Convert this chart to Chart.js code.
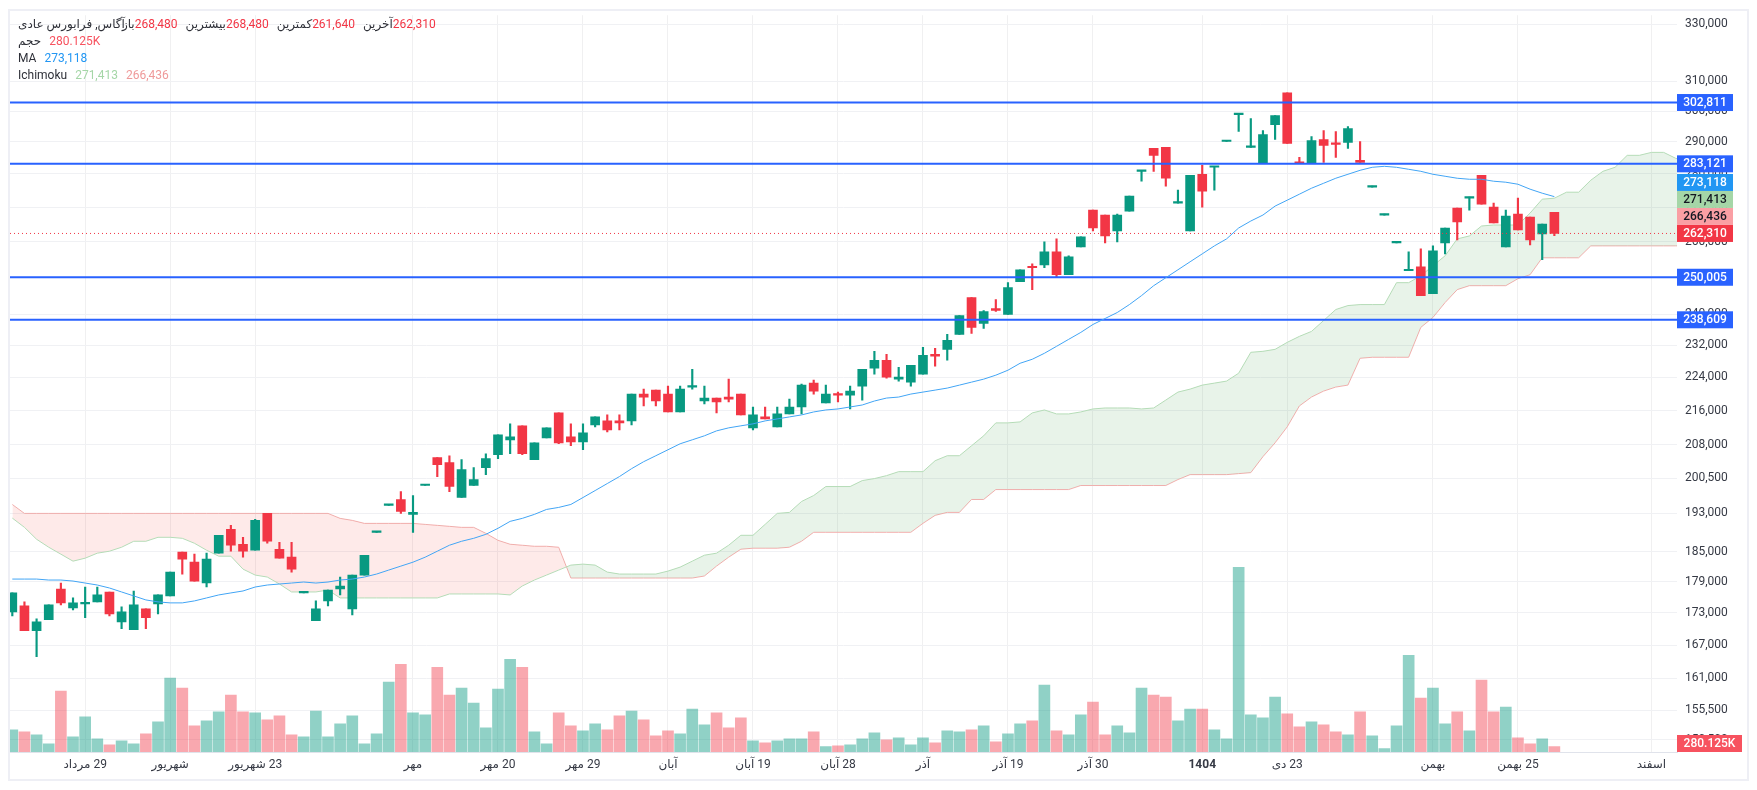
<!DOCTYPE html>
<html lang="fa">
<head>
<meta charset="utf-8">
<title>آگاس</title>
<script src="https://cdn.jsdelivr.net/npm/chart.js@4"></script>
<style>
  html, body { margin: 0; padding: 0; background: #fff; }
  body { width: 1757px; height: 790px; position: relative; overflow: hidden; font-family: Roboto, "Noto Sans", "DejaVu Sans", sans-serif; }
  #frame { position: absolute; left: 8px; top: 9px; width: 1741px; height: 772px; box-sizing: border-box; border: 2px solid #eeeff5; }
  canvas { position: absolute; left: 0; top: 0; }
  #legend { position: absolute; left: 18px; top: 16px; font-size: 12px; line-height: 17px; color: #2e3038; }
  #legend div { display: flex; height: 17px; white-space: nowrap; }
  #legend span { margin-right: 8px; }
  #legend span.l { margin-right: 0; }
  #legend span.n { margin-right: -3px; }
</style>
</head>
<body>
<div id="frame"></div>
<canvas id="grafico" width="1757" height="790" dir="rtl"></canvas>
<div id="legend">
  <div><span class="n">آگاس, فرابورس عادی</span><span class="l">باز</span><span style="color:#f23645">268,480</span><span class="l">بیشترین</span><span style="color:#f23645">268,480</span><span class="l">کمترین</span><span style="color:#f23645">261,640</span><span class="l">آخرین</span><span style="color:#f23645">262,310</span></div>
  <div><span>حجم</span><span style="color:#f7525f">280.125K</span></div>
  <div><span>MA</span><span style="color:#2196f3">273,118</span></div>
  <div><span>Ichimoku</span><span style="color:#a5d6a7">271,413</span><span style="color:#ef9a9a">266,436</span></div>
</div>
<script>
/* candles, one entry per trading day */
const opens = [
  173210,174350,169660,171710,177600,173970,174730,175110,177030,171330,
  169850,173780,174730,176260,184920,182910,178770,184720,189620,186540,
  185320,192960,185520,183910,176840,171520,175300,177600,173780,180340,
  189000,194650,195930,192750,198950,205120,204000,196350,198950,202890,
  205790,209180,212410,204670,209630,215440,209860,208720,212640,213560,
  213560,213560,219940,220900,219940,215670,221630,218270,218980,219220,
  219940,211940,214500,212170,215200,216850,222600,217800,219940,219700,
  221870,226270,228250,223570,222840,224790,229750,231000,234820,244480,
  237650,241570,239990,248790,252890,253440,257060,250700,258470,269120,
  267660,263030,268830,280800,287950,288260,271180,263030,279900,282050,
  290150,298800,288260,283270,295580,306070,283580,283270,290790,289520,
  289840,284200,276000,267650,259600,251800,252890,245550,259600,269700,
  272650,279590,270000,258470,267950,267080,262170,268480
];
const highs = [
  176840,175110,171900,174540,178770,175870,177990,177990,177030,174160,
  177220,173780,176450,180930,184920,184520,184720,188380,190450,187970,
  191700,192960,186950,186950,177030,175300,177410,179950,180340,184310,
  189200,194860,197640,196780,199170,205120,205560,204670,202890,206010,
  210320,212870,212410,208490,211940,215440,212870,212870,214500,214970,
  214970,219940,221140,220900,221870,221870,226020,221870,218980,223570,
  219940,216850,216850,216850,218740,222360,223330,222110,220420,221870,
  226020,230500,229750,226510,227010,231510,231260,234820,239730,244480,
  241050,243950,248520,252070,253720,259880,260740,255950,261310,269120,
  267660,267950,273250,281120,287950,288260,275050,279590,282660,282350,
  290470,299150,297520,293650,298500,306070,285150,291740,293650,293330,
  294940,290150,276260,267950,259880,257060,257900,258750,263890,269700,
  272950,279590,271180,269120,272650,267080,265040,268480
];
const lows = [
  172460,169660,164920,171710,174540,173590,172090,175110,172460,170030,
  169850,170030,172830,176260,180540,179160,177990,184720,185120,183910,
  185320,186740,183710,180930,176840,171520,174350,176450,172640,180340,
  189000,194650,192960,189000,198950,200910,197640,196350,198950,201340,
  204890,206010,205790,204670,209630,208270,207820,206910,212170,211010,
  211470,212640,217090,217090,215670,215670,221140,217560,215440,218030,
  214970,211470,214030,212170,215200,215200,219940,217800,218030,216380,
  218500,224790,223810,223090,221870,224790,226760,228250,234820,235070,
  236360,240780,239990,248790,246630,252620,250150,250700,258470,263030,
  259600,259880,268830,277770,280810,276260,271180,263030,270000,275050,
  290150,293330,288260,283270,290790,289520,283270,283270,283580,285150,
  287950,283580,276000,267650,259600,251800,245020,245550,256500,260450,
  269120,270880,265330,258470,263310,259040,254840,261640
];
const closes = [
  176840,169660,171330,174540,174920,174920,174920,176450,172830,173210,
  174540,172090,176450,180930,183510,179160,183510,188380,186340,185120,
  191490,187150,183710,181520,177030,173780,177410,178190,180340,184310,
  189200,194860,193380,193170,199170,203560,198730,202440,200250,204890,
  210320,209860,206010,208490,211940,208490,208720,210780,214500,211470,
  213100,219940,219220,218270,215670,221140,221870,218980,218030,218740,
  214970,214970,214030,215200,216850,222110,220660,219940,219700,220660,
  226020,228250,224060,224060,227010,229500,229250,233290,239730,236620,
  240780,241050,247170,252070,252620,257060,250700,255670,261310,263890,
  261590,267660,273250,281120,285770,278680,271480,279590,274750,282350,
  290470,299150,288580,292370,298500,289520,283270,290470,288890,289210,
  294290,283580,276260,267950,259880,252070,245020,257340,263890,265620,
  272950,270880,265330,267370,263310,260450,265040,262310
];
/* volume in thousands */
const volumes = [
  1172,1068,910,438,3220,805,1855,700,385,595,
  438,962,1592,3902,3378,1382,1645,2118,3010,2118,
  2065,1698,1908,910,805,2170,805,1488,1908,438,
  962,3692,4638,2065,1960,4480,3010,3378,2590,1278,
  3325,4900,4480,1068,438,2065,1382,1120,1488,1172,
  1908,2170,1698,858,1120,962,2275,1435,2065,1278,
  1802,595,490,595,700,700,1068,280,332,385,
  700,1015,648,752,385,752,490,1120,1068,1172,
  1382,542,962,1488,1645,3535,1120,910,1960,2642,
  910,1382,1015,3378,3010,2905,1645,2275,2275,1172,
  700,9765,1960,1802,2905,2012,1330,1592,1435,1068,
  910,2118,858,175,1382,5110,2852,3378,1488,2118,
  1120,3798,2118,2380,752,438,700,280.125
];
const maValues = [
  179550,179550,179550,179360,179360,179160,178770,178380,177800,177030,
  176260,175490,175110,174920,174920,175300,175870,176450,176840,177220,
  177990,178380,178580,178770,178970,178770,178970,179360,179550,179950,
  180540,181330,182120,182910,183910,185120,186340,187150,187760,188580,
  189830,191280,191910,192750,193800,194230,194860,196350,197850,199380,
  200910,202660,204220,205560,206910,208270,209180,210100,211240,211940,
  212410,212870,213560,214030,214500,214970,215670,216140,216380,216850,
  217320,218270,218980,219220,219940,220420,220900,221390,222110,222840,
  223570,224550,225770,227500,228500,230000,231760,233550,235330,237390,
  238950,240520,242620,245020,247700,249870,252070,254280,256500,258750,
  260740,263890,265910,267660,270300,272060,273850,275650,277160,278680,
  279900,281120,282050,282350,282050,281430,280810,279900,279290,278680,
  278370,278370,277770,277470,276860,275360,274150,273118
];
/* Ichimoku leading spans, they run past the last candle */
const spanA = [
  191970,190030,187560,185930,184520,183110,183710,184720,185120,185930,
  187150,187150,187970,187970,187760,186740,185320,184110,184110,181520,
  180340,179950,178580,177030,177030,177030,177410,175870,175870,175870,
  175870,175870,175870,175870,175870,175870,176640,176640,176640,176640,
  176640,176450,178190,179360,180340,181330,182320,182520,182320,180930,
  180540,180540,180540,180540,181130,181920,183110,184310,184720,186340,
  188380,188380,190650,192960,193170,195500,196780,198730,198730,198730,
  200030,200470,201120,202000,202000,202000,204440,205560,205560,207820,
  210100,213100,213100,213330,215440,216140,215200,215200,215670,216380,
  216610,216610,216610,216380,216610,218500,220420,221140,222110,222600,
  223090,225030,230250,230500,231000,232780,234310,235590,238430,241310,
  242360,242620,242620,242620,248520,248520,250420,253170,255950,260740,
  261590,264460,264750,264750,264750,268240,272360,272650,274450,274450,
  278080,280810,282050,285770,285770,286700,286700,284830,283890
];
const spanB = [
  194860,192960,192960,192960,192960,192960,192960,192960,192960,192960,
  192960,192960,192960,192960,192960,192960,192960,192960,192960,192960,
  192960,192960,192960,192960,192960,192960,192960,191910,191490,190860,
  190860,190860,190860,190860,190650,190450,190240,190030,190030,188790,
  187350,186540,186340,186130,186130,185930,179750,179750,179750,179750,
  179750,179750,179750,179750,179750,179750,179750,180150,182120,183910,
  185520,185730,185730,185730,185930,187150,189000,189000,189000,189000,
  189000,189000,189000,189000,189000,190860,192540,193170,193170,195930,
  195930,198070,198070,198070,198070,198070,198070,198070,198950,198950,
  198950,198950,198950,198950,198950,198950,200250,201340,201340,201340,
  201340,201560,201780,205340,208490,212170,217090,219220,220660,221630,
  222110,228740,229000,229000,229000,229000,236620,239210,243150,246630,
  247700,247700,247700,247700,249600,250700,255390,255390,255390,255390,
  258750,258750,258750,258750,258750,258750,258750,258750,258750
];
/* price axis, this one is a log scale */
const priceTicks = [330000,310000,300000,290000,280000,270000,260000,250000,240000,232000,224000,216000,208000,200500,193000,185000,179000,173000,167000,161000,155500,150500];
/* time axis */
const timeTickIndex = [6,13,20,33,40,47,54,61,68,75,82,89,98,105,117,124,135];
const timeTickLabels = ['29 مرداد','شهریور','23 شهریور','مهر','20 مهر','29 مهر','آبان','19 آبان','28 آبان','آذر','19 آذر','30 آذر','1404','23 دی','بهمن','25 بهمن','اسفند'];
/* drawn levels and the last price */
const levels = [302811,283121,250005,238609];
const lastPrice = 262310;
const lastVolume = 280.125;
const priceTags = [
  {value: 302811, text: '302,811', bg: '#2962ff', fg: '#fff'},
  {value: 283121, text: '283,121', bg: '#2962ff', fg: '#fff'},
  {value: 273118, text: '273,118', bg: '#2196f3', fg: '#fff'},
  {value: 271413, text: '271,413', bg: '#a5d6a7', fg: '#131722'},
  {value: 266436, text: '266,436', bg: '#fa9fa4', fg: '#131722'},
  {value: 262310, text: '262,310', bg: '#f23645', fg: '#fff'},
  {value: 250005, text: '250,005', bg: '#2962ff', fg: '#fff'},
  {value: 238609, text: '238,609', bg: '#2962ff', fg: '#fff'}
];

const xMin = -0.19;
const xMax = 137.1;
const verde = '#089981';
const vermelho = '#f23645';
const font_base = 'Roboto, "Noto Sans", "DejaVu Sans", sans-serif';

const isUp = i => closes[i] >= opens[i];
const toPoints = arr => arr.map((y, x) => ({x, y}));
const flat = v => [{x: xMin, y: v}, {x: xMax, y: v}];

/* tags on the price axis, pushed upwards when they would overlap */
const tagsPlugin = {
  id: 'tags',
  afterDraw(chart) {
    const {ctx, chartArea, scales} = chart;
    const h = 17;
    ctx.save();
    ctx.direction = 'ltr';
    ctx.textAlign = 'center';
    ctx.textBaseline = 'middle';
    ctx.font = '500 12px ' + font_base;
    let prev = Infinity;
    priceTags.slice().sort((a, b) => a.value - b.value).forEach(tag => {
      const natural = scales.y.getPixelForValue(tag.value);
      const y = Math.min(natural, prev - h);
      prev = y;
      ctx.fillStyle = tag.bg;
      ctx.fillRect(chartArea.right, y - h / 2, 56, h);
      ctx.fillStyle = tag.fg;
      ctx.fillText(tag.text, chartArea.right + 28, y + 0.5);
    });
    /* volume tag stays inside the pane */
    const vy = Math.min(scales.yVol.getPixelForValue(lastVolume), chartArea.bottom - h / 2);
    ctx.fillStyle = '#f7525f';
    ctx.fillRect(chartArea.right, vy - h / 2, 65, h);
    ctx.fillStyle = '#fff';
    ctx.fillText('280.125K', chartArea.right + 32.5, vy + 0.5);
    ctx.restore();
  }
};

const datasets = [
  {type: 'line', data: flat(levels[0]), borderColor: '#2962ff', borderWidth: 2, pointRadius: 0, order: 2},
  {type: 'line', data: flat(levels[1]), borderColor: '#2962ff', borderWidth: 2, pointRadius: 0, order: 2},
  {type: 'line', data: flat(levels[2]), borderColor: '#2962ff', borderWidth: 2, pointRadius: 0, order: 2},
  {type: 'line', data: flat(levels[3]), borderColor: '#2962ff', borderWidth: 2, pointRadius: 0, order: 2},
  {type: 'line', data: flat(lastPrice), borderColor: vermelho, borderWidth: 1, borderDash: [1, 3], pointRadius: 0, order: 3},
  {type: 'line', data: toPoints(maValues), borderColor: '#42a5f5', borderWidth: 1, pointRadius: 0, order: 1},
  /* wicks and bodies are floating bars */
  {type: 'bar', data: lows.map((l, i) => ({x: i, y: [l, highs[i]]})), backgroundColor: lows.map((l, i) => isUp(i) ? verde : vermelho), barThickness: 1.5, order: 5},
  {type: 'bar', data: opens.map((o, i) => ({x: i, y: [o, closes[i]]})), backgroundColor: opens.map((o, i) => isUp(i) ? verde : vermelho), barThickness: 9, minBarLength: 1.5, order: 4},
  {type: 'line', data: toPoints(spanA), borderColor: '#b5dcb7', borderWidth: 1, pointRadius: 0, order: 6,
    fill: {target: '+1', above: 'rgba(67,160,71,0.12)', below: 'rgba(244,67,54,0.11)'}},
  {type: 'line', data: toPoints(spanB), borderColor: '#f5b3b3', borderWidth: 1, pointRadius: 0, order: 7},
  {type: 'bar', yAxisID: 'yVol', data: toPoints(volumes), backgroundColor: volumes.map((v, i) => isUp(i) ? 'rgba(8,153,129,0.45)' : 'rgba(242,54,69,0.43)'), barThickness: 11, order: 8}
];

const grafico = new Chart(document.getElementById('grafico'), {
  type: 'bar',
  data: {datasets},
  plugins: [tagsPlugin],
  options: {
    responsive: false,
    animation: false,
    events: [],
    devicePixelRatio: 1,
    layout: {padding: {left: 10, top: 11, right: 10, bottom: 12}},
    plugins: {legend: {display: false}, tooltip: {enabled: false}},
    datasets: {bar: {grouped: false, borderWidth: 0}},
    elements: {line: {tension: 0}},
    scales: {
      x: {
        type: 'linear',
        min: xMin,
        max: xMax,
        offset: false,
        grid: {offset: false, color: 'rgba(42,46,57,0.07)', drawTicks: false},
        border: {display: true, color: '#e0e3eb'},
        afterBuildTicks: s => { s.ticks = timeTickIndex.map(value => ({value})); },
        afterFit: s => { s.height = 26; },
        ticks: {
          autoSkip: false,
          maxRotation: 0,
          padding: 6,
          color: '#363a45',
          font: c => ({family: font_base, size: 12, weight: c.tick && c.tick.value === 98 ? 'bold' : 'normal'}),
          callback: value => timeTickLabels[timeTickIndex.indexOf(value)]
        }
      },
      y: {
        type: 'logarithmic',
        position: 'right',
        min: 148530,
        max: 333250,
        grid: {color: '#f0f1f4', drawTicks: false},
        border: {display: false},
        afterBuildTicks: s => { s.ticks = priceTicks.map(value => ({value})); },
        afterFit: s => { s.width = 70; },
        ticks: {
          autoSkip: false,
          padding: 8,
          color: '#363a45',
          font: {family: font_base, size: 12},
          callback: value => value.toLocaleString('en-US')
        }
      },
      yVol: {
        type: 'linear',
        display: false,
        min: 0,
        max: 38955
      }
    }
  }
});
</script>
</body>
</html>
